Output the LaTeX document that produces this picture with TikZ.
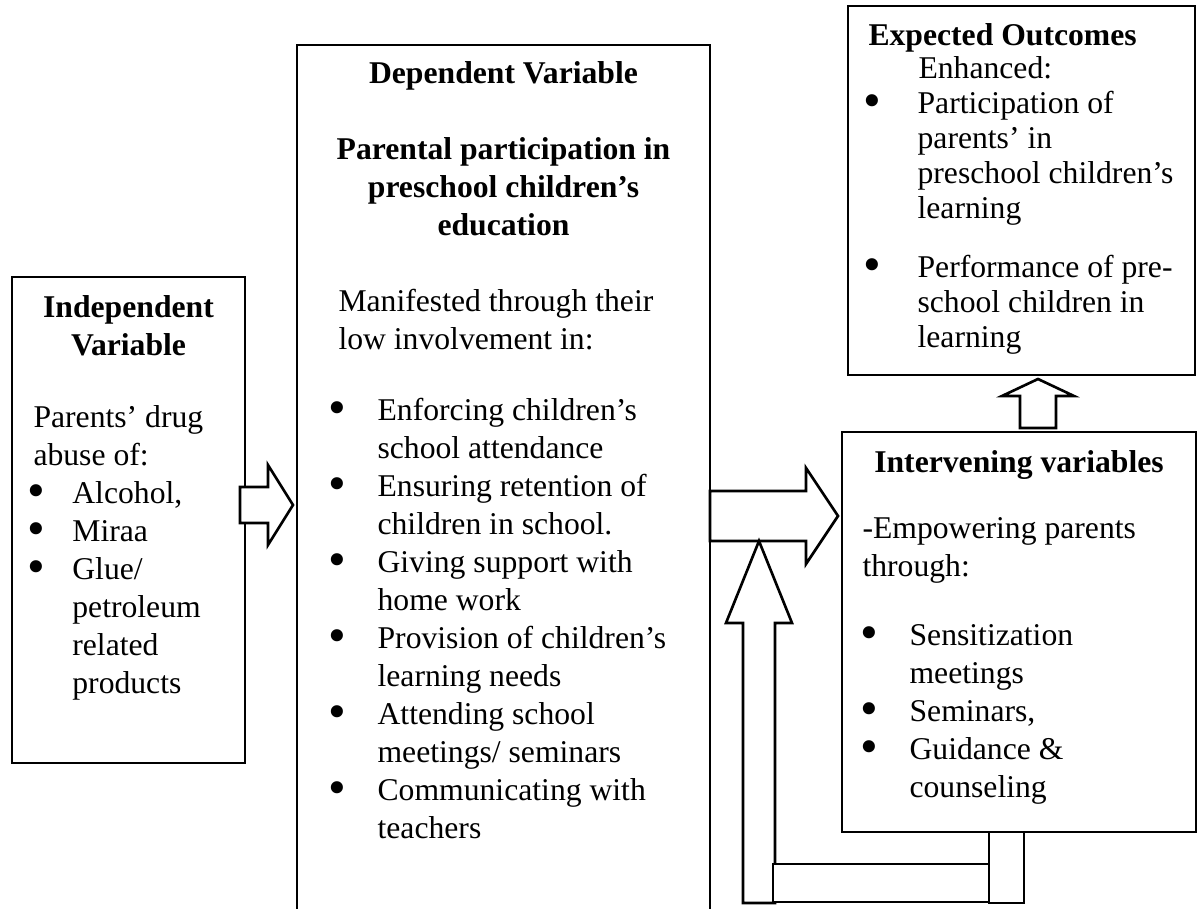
\documentclass[tikz,border=0pt]{standalone}
\usepackage{fontspec}
\setmainfont{Liberation Serif}
\usetikzlibrary{fit}
\newcommand{\blt}[1][18.6pt]{\makebox[#1][l]{\smash{\raisebox{-1.5pt}{\scalebox{1.6}{•}}}}}
\newcommand{\ind}[1][18.6pt]{\hspace*{#1}}
\newcommand{\fl}{\rule{0pt}{9pt}}
\tikzset{
  box/.style={draw, line width=1pt, inner sep=0pt},
  blockarrow/.style={draw, line width=1pt, fill=white},
  txt/.style={anchor=north west, yshift=9pt, inner sep=0pt, align=left,
    font=\fontsize{12}{14.4}\selectfont},
  ttl/.style={txt, anchor=north, align=center, font=\fontsize{12}{14.4}\selectfont\bfseries},
}
\begin{document}
\begin{tikzpicture}[x=0.379pt,y=-0.379pt]
\useasboundingbox (0,0) rectangle (1201,909);
\clip (0,0) rectangle (1201,909);
% ------ boxes -----------------
\node[box, fit={(12,277) (245,763)}] (indep) {};
\node[box, fit={(297,45) (710,960)}] (dep) {};
\node[box, fit={(848,6) (1195,375)}] (outc) {};
\node[box, fit={(842,432) (1196,832)}] (interv) {};
% ------ Independent Variable -----------------
\node[ttl] (indep-t) at (128.5,317) {\fl Independent\\Variable};
\node[txt] (indep-m) at (33,427) {\fl Parents’ drug\\abuse of:};
\node[txt] (indep-b) at (27,503) {\fl \blt[17pt]Alcohol,\\ \blt[17pt]Miraa\\ \blt[17pt]Glue/\\
  \ind[17pt]petroleum\\ \ind[17pt]related\\ \ind[17pt]products};
% ------ Dependent Variable -----------------
\node[ttl] (dep-t) at (503.5,83) {\fl Dependent Variable};
\node[ttl] (dep-s) at (503.5,159) {\fl Parental participation in\\preschool children’s\\education};
\node[txt] (dep-m) at (338,311) {\fl Manifested through their\\low involvement in:};
\node[txt] (dep-b) at (328,420) {\fl \blt Enforcing children’s\\ \ind school attendance\\
  \blt Ensuring retention of\\ \ind children in school.\\
  \blt Giving support with\\ \ind home work\\
  \blt Provision of children’s\\ \ind learning needs\\
  \blt Attending school\\ \ind meetings/ seminars\\
  \blt Communicating with\\ \ind teachers};
% ------ Expected Outcomes -----------------
\node[txt, font=\fontsize{12}{13.3}\selectfont\bfseries] (outc-t) at (868,45) {\fl Expected Outcomes};
\node[txt] (outc-e) at (918,78) {\fl Enhanced:};
\node[txt, font=\fontsize{12}{13.3}\selectfont] (outc-b1) at (863,113) {\fl \blt[20.5pt]Participation of\\
  \ind[20.5pt]parents’ in\\ \ind[20.5pt]preschool children’s\\ \ind[20.5pt]learning};
\node[txt, font=\fontsize{12}{13.3}\selectfont] (outc-b2) at (863,277) {\fl \blt[20.5pt]Performance of pre-\\
  \ind[20.5pt]school children in\\ \ind[20.5pt]learning};
% ------ Intervening variables -----------------
\node[ttl] (interv-t) at (1019,472) {\fl Intervening variables};
\node[txt] (interv-m) at (862,538) {\fl -Empowering parents\\through:};
\node[txt] (interv-b) at (860,645) {\fl \blt Sensitization\\ \ind meetings\\
  \blt Seminars,\\ \blt Guidance \&\\ \ind counseling};
% ------ block arrows -----------------
\draw[blockarrow] (240,487) -- (268,487) -- (268,465) -- (293,505) -- (268,545) -- (268,523) -- (240,523) -- cycle;
\draw[blockarrow] (710,491) -- (806,491) -- (806,468) -- (838,516) -- (806,564) -- (806,541) -- (710,541) -- cycle;
\draw[blockarrow] (1020,428) -- (1020,396) -- (1002,396) -- (1038,379) -- (1074,396) -- (1056,396) -- (1056,428) -- cycle;
% ------ feedback loop -----------------
\draw[blockarrow] (989,832) rectangle (1024,903);
\draw[blockarrow] (743,903) -- (743,623) -- (726,623) -- (759,541) -- (792,623) -- (775,623) -- (775,903) -- cycle;
\draw[blockarrow] (773,864) rectangle (989,902);
\end{tikzpicture}
\end{document}
